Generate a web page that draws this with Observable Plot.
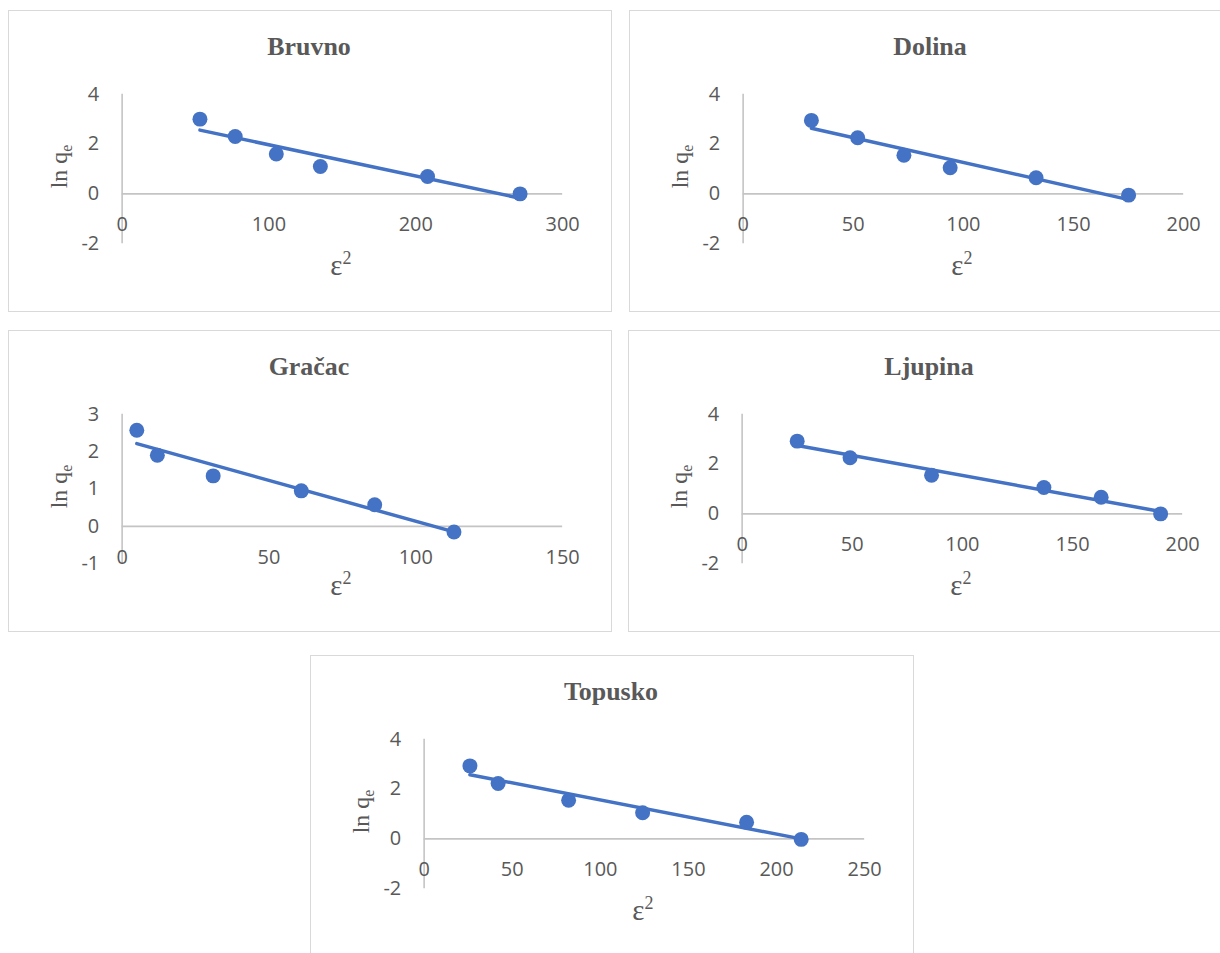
<!DOCTYPE html>
<html>
<head>
<meta charset="utf-8">
<script src="https://cdn.jsdelivr.net/npm/d3@7"></script>
<script src="https://cdn.jsdelivr.net/npm/@observablehq/plot@0.6"></script>
<style>
  html, body { margin: 0; padding: 0; background: #fff; width: 1220px; height: 953px; overflow: hidden; position: relative; }
  .box { position: absolute; width: 604px; height: 302px; box-sizing: border-box; border: 1px solid #d9d9d9; background: #fff; }
  .box svg { position: absolute; left: -1px; top: -1px; }
</style>
</head>
<body>
<script>
// ---- data ----
const bruvnoX = [53, 77, 105, 135, 208, 271];
const bruvnoY = [3.0, 2.3, 1.6, 1.1, 0.7, 0.0];
const dolinaX = [31, 52, 73, 94, 133, 175];
const dolinaY = [2.95, 2.25, 1.55, 1.05, 0.65, -0.05];
const gracacX = [5, 12, 31, 61, 86, 113];
const gracacY = [2.57, 1.9, 1.35, 0.95, 0.58, -0.15];
const ljupinaX = [25, 49, 86, 137, 163, 190];
const ljupinaY = [2.92, 2.25, 1.55, 1.06, 0.67, 0.0];
const topuskoX = [26, 42, 82, 124, 183, 214];
const topuskoY = [2.93, 2.22, 1.55, 1.05, 0.67, -0.02];

const ticksX300 = [0, 100, 200, 300];
const ticksX200 = [0, 50, 100, 150, 200];
const ticksX150 = [0, 50, 100, 150];
const ticksX250 = [0, 50, 100, 150, 200, 250];
const ticksY4 = [-2, 0, 2, 4];
const ticksY3 = [-1, 0, 1, 2, 3];

const panelTitles = ["Bruvno", "Dolina", "Gračac", "Ljupina", "Topusko"];

const BLUE = "#4472C4";
const GRAY = "#595959";
const AXIS = "#c4c4c4";
const SANS = "'Open Sans', 'Noto Sans', sans-serif";
const SERIF = "'Liberation Serif', 'Times New Roman', serif";

function makePanel(title, xs, ys, xTicks, yTicks, left, top) {
  const data = xs.map((x, i) => ({x, y: ys[i]}));
  const box = document.createElement("div");
  box.className = "box";
  box.style.left = left + "px";
  box.style.top = top + "px";
  document.body.appendChild(box);

  const W = 604, H = 302;
  const plot = Plot.plot({
    width: W,
    height: H,
    marginLeft: 114,
    marginRight: 48,
    marginTop: 84,
    marginBottom: 68,
    style: {fontFamily: SANS, fontSize: "20px", color: GRAY, background: "transparent", overflow: "visible"},
    x: {domain: [xTicks[0], xTicks[xTicks.length - 1]], axis: null},
    y: {domain: [yTicks[0], yTicks[yTicks.length - 1]], axis: null},
    marks: [
      Plot.ruleX([0], {stroke: AXIS, strokeWidth: 1.6}),
      Plot.ruleY([0], {stroke: AXIS, strokeWidth: 1.6}),
      Plot.axisY({ticks: yTicks, tickSize: 0, tickPadding: 23, tickFormat: d => String(d), label: null, fontSize: 20, fill: GRAY}),
      Plot.text(xTicks, {x: d => d, y: d => 0, text: d => String(d), dy: 31, lineAnchor: "middle", fontSize: 20, fill: GRAY}),
      Plot.linearRegressionY(data, {x: "x", y: "y", ci: 0, stroke: BLUE, strokeWidth: 3.5}),
      Plot.dot(data, {x: "x", y: "y", r: 7.5, fill: BLUE, stroke: "none"})
    ]
  });
  box.appendChild(plot);

  const svg = d3.select(plot);
  svg.append("text")
    .attr("x", 302).attr("y", 45)
    .attr("text-anchor", "middle")
    .attr("font-family", SERIF)
    .attr("font-weight", "bold")
    .attr("font-size", 26)
    .attr("fill", GRAY)
    .text(title);

  const xl = svg.append("text")
    .attr("x", (114 + (W - 48)) / 2 - 1).attr("y", 266)
    .attr("text-anchor", "middle")
    .attr("font-family", SERIF)
    .attr("font-size", 29)
    .attr("fill", GRAY);
  xl.append("tspan").text("ε");
  xl.append("tspan").attr("font-size", 18).attr("dy", -11).text("2");

  const yl = svg.append("text")
    .attr("transform", `translate(59,${(84 + (H - 68)) / 2 - 2}) rotate(-90)`)
    .attr("text-anchor", "middle")
    .attr("font-family", SERIF)
    .attr("font-size", 24)
    .attr("fill", GRAY);
  yl.append("tspan").text("ln q");
  yl.append("tspan").attr("font-size", 16).attr("dy", 5).text("e");
}

makePanel(panelTitles[0], bruvnoX, bruvnoY, ticksX300, ticksY4, 8, 10);
makePanel(panelTitles[1], dolinaX, dolinaY, ticksX200, ticksY4, 629, 10);
makePanel(panelTitles[2], gracacX, gracacY, ticksX150, ticksY3, 8, 330);
makePanel(panelTitles[3], ljupinaX, ljupinaY, ticksX200, ticksY4, 628, 330);
makePanel(panelTitles[4], topuskoX, topuskoY, ticksX250, ticksY4, 310, 655);
</script>
</body>
</html>
